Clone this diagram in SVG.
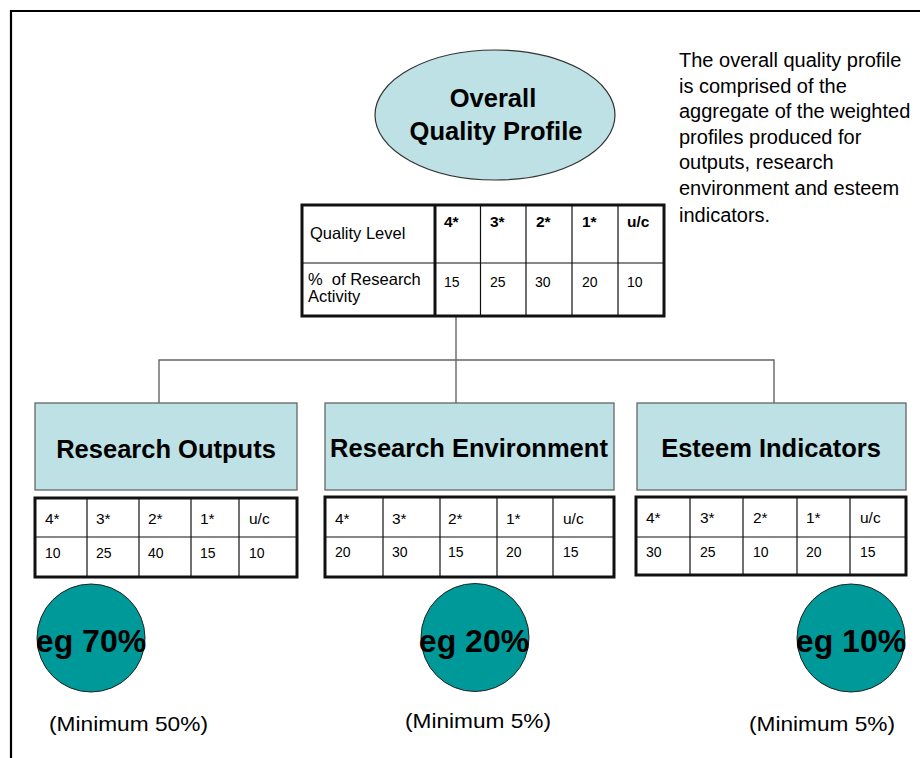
<svg xmlns="http://www.w3.org/2000/svg" width="920" height="758" viewBox="0 0 920 758">
<style>
text{font-family:"Liberation Sans",Arial,sans-serif;fill:#000}
.b{font-weight:bold}
.box{fill:#bde1e4;stroke:#666;stroke-width:1.3}
.tbl{fill:#fff;stroke:#111;stroke-width:3}
.grid{stroke:#111;stroke-width:1.2;fill:none}
.circ{fill:#009999;stroke:#222;stroke-width:1}
.conn{stroke:#666;stroke-width:1.4;fill:none}
.hd{font-size:15.5px}
.val{font-size:14px}
.lbl{font-size:25.5px;font-weight:bold;text-anchor:middle}
.pct{font-size:32px;font-weight:bold;text-anchor:middle}
.min{font-size:21px}
.para{font-size:20px}
</style>
<rect width="920" height="758" fill="#fff"/>
<path d="M11 758 V11 H920" fill="none" stroke="#000" stroke-width="2.2"/>

<g id="connectors">
<path class="conn" d="M456 317 V403"/>
<path class="conn" d="M159 403 V360 H774 V403"/>
</g>

<g id="overall">
<ellipse cx="495" cy="115" rx="120" ry="65" fill="#bde1e4" stroke="#333" stroke-width="1.2"/>
<text class="b" x="493" y="107" font-size="25.5" text-anchor="middle">Overall</text>
<text class="b" x="496" y="140" font-size="25.5" text-anchor="middle">Quality Profile</text>
</g>

<g id="overall-table">
<rect class="tbl" x="302" y="205" width="362" height="111"/>
<path class="grid" d="M302 263 H664 M480.5 205 V316 M526 205 V316 M572 205 V316 M618 205 V316"/>
<path d="M435 205 V316" stroke="#111" stroke-width="3"/>
<text x="310" y="239" font-size="16.5">Quality Level</text>
<text x="308" y="285" font-size="16.5" xml:space="preserve">%  of Research</text>
<text x="308" y="302" font-size="16.5">Activity</text>
<text class="b hd" x="444" y="227">4*</text>
<text class="b hd" x="490" y="227">3*</text>
<text class="b hd" x="536" y="227">2*</text>
<text class="b hd" x="582" y="227">1*</text>
<text class="b hd" x="627" y="227">u/c</text>
<text class="val" x="444" y="287">15</text>
<text class="val" x="490" y="287">25</text>
<text class="val" x="535" y="287">30</text>
<text class="val" x="582" y="287">20</text>
<text class="val" x="627" y="287">10</text>
</g>

<text class="para" x="679" y="67">The overall quality profile</text>
<text class="para" x="679" y="92.5">is comprised of the</text>
<text class="para" x="679" y="118">aggregate of the weighted</text>
<text class="para" x="679" y="144">profiles produced for</text>
<text class="para" x="679" y="169">outputs, research</text>
<text class="para" x="679" y="194.5">environment and esteem</text>
<text class="para" x="679" y="222">indicators.</text>

<g id="research-outputs">
<rect class="box" x="35" y="403" width="262" height="87"/>
<text class="lbl" x="166" y="458">Research Outputs</text>
<rect class="tbl" x="35" y="498" width="262" height="79"/>
<path class="grid" d="M35 537 H297 M87 498 V577 M139 498 V577 M191 498 V577 M239 498 V577"/>
<text class="hd" x="45" y="524">4*</text>
<text class="hd" x="96" y="524">3*</text>
<text class="hd" x="148" y="524">2*</text>
<text class="hd" x="200" y="524">1*</text>
<text class="hd" x="249" y="524">u/c</text>
<text class="val" x="45" y="558">10</text>
<text class="val" x="96" y="558">25</text>
<text class="val" x="148" y="558">40</text>
<text class="val" x="200" y="558">15</text>
<text class="val" x="249" y="558">10</text>
<circle class="circ" cx="91" cy="638" r="54"/>
<text class="pct" x="91" y="652">eg 70%</text>
<text class="min" x="49" y="731" textLength="159" lengthAdjust="spacingAndGlyphs">(Minimum 50%)</text>
</g>

<g id="research-environment">
<rect class="box" x="325" y="403" width="289" height="87"/>
<text class="lbl" x="469" y="457">Research Environment</text>
<rect class="tbl" x="325" y="497" width="289" height="80"/>
<path class="grid" d="M325 537 H614 M383 497 V577 M440 497 V577 M497 497 V577 M553 497 V577"/>
<text class="hd" x="335" y="524">4*</text>
<text class="hd" x="392" y="524">3*</text>
<text class="hd" x="448" y="524">2*</text>
<text class="hd" x="506" y="524">1*</text>
<text class="hd" x="563" y="524">u/c</text>
<text class="val" x="335" y="557">20</text>
<text class="val" x="392" y="557">30</text>
<text class="val" x="448" y="557">15</text>
<text class="val" x="506" y="557">20</text>
<text class="val" x="563" y="557">15</text>
<circle class="circ" cx="475" cy="637.5" r="54"/>
<text class="pct" x="474" y="652">eg 20%</text>
<text class="min" x="405" y="728" textLength="146" lengthAdjust="spacingAndGlyphs">(Minimum 5%)</text>
</g>

<g id="esteem-indicators">
<rect class="box" x="637" y="403" width="269" height="87"/>
<text class="lbl" x="771" y="457">Esteem Indicators</text>
<rect class="tbl" x="636" y="497" width="270" height="78"/>
<path class="grid" d="M636 537 H906 M690 497 V575 M743 497 V575 M797 497 V575 M850 497 V575"/>
<text class="hd" x="646" y="523">4*</text>
<text class="hd" x="700" y="523">3*</text>
<text class="hd" x="753" y="523">2*</text>
<text class="hd" x="806" y="523">1*</text>
<text class="hd" x="860" y="523">u/c</text>
<text class="val" x="646" y="557">30</text>
<text class="val" x="700" y="557">25</text>
<text class="val" x="753" y="557">10</text>
<text class="val" x="806" y="557">20</text>
<text class="val" x="860" y="557">15</text>
<circle class="circ" cx="851" cy="638" r="54"/>
<text class="pct" x="851" y="652">eg 10%</text>
<text class="min" x="749" y="731" textLength="146" lengthAdjust="spacingAndGlyphs">(Minimum 5%)</text>
</g>
</svg>
